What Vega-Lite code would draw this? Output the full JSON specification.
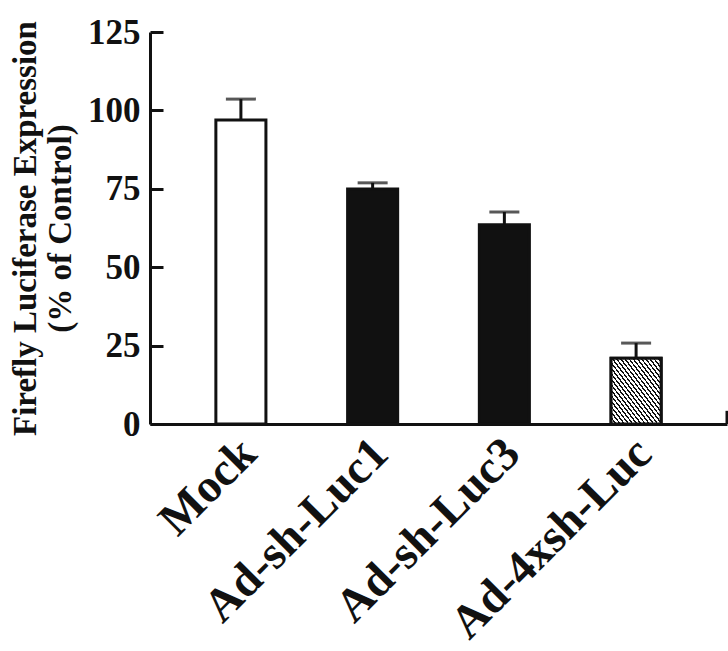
{
  "$schema": "https://vega.github.io/schema/vega-lite/v6.json",
  "width": 577,
  "height": 392,
  "autosize": {"type": "none"},
  "padding": {"left": 150, "top": 32, "right": 1, "bottom": 227},
  "background": "white",
  "config": {"view": {"stroke": null}, "font": "Liberation Serif"},
  "data": {"values": [
    {"group": "Mock", "mean": 96.9, "upper": 103.6, "pattern": "open"},
    {"group": "Ad-sh-Luc1", "mean": 74.9, "upper": 76.9, "pattern": "solid"},
    {"group": "Ad-sh-Luc3", "mean": 63.5, "upper": 67.6, "pattern": "solid"},
    {"group": "Ad-4xsh-Luc", "mean": 21.0, "upper": 25.8, "pattern": "hatched"}
  ]},
  "resolve": {"scale": {"x": "independent"}},
  "layer": [
    {
      "encoding": {
        "x": {
          "field": "group", "type": "nominal", "sort": null,
          "scale": {"paddingInner": 0.62, "paddingOuter": 0.5},
          "axis": {
            "title": null, "labelAngle": -45, "labelAlign": "right", "labelBaseline": "middle",
            "labelFont": "Liberation Serif", "labelFontSize": 47, "labelFontWeight": "bold", "labelColor": "#111",
            "labelLimit": 0, "labelOverlap": false,
            "ticks": false, "labelPadding": 22, "labelOffset": 8,
            "domainColor": "#111", "domainWidth": 3, "grid": false
          }
        }
      },
      "layer": [
        {
          "mark": {"type": "bar", "stroke": "#111", "strokeWidth": 3},
          "encoding": {
            "y": {
              "field": "mean", "type": "quantitative",
              "scale": {"domain": [0, 125], "nice": false, "zero": true},
              "axis": {
                "title": ["Firefly Luciferase Expression", "(% of Control)"],
                "values": [0, 25, 50, 75, 100, 125], "grid": false,
                "domainColor": "#111", "domainWidth": 3,
                "tickColor": "#111", "tickWidth": 3, "tickSize": -13,
                "labelFont": "Liberation Serif", "labelFontWeight": "bold", "labelFontSize": 35, "labelColor": "#111",
                "labelPadding": 23,
                "titleFont": "Liberation Serif", "titleFontWeight": "bold", "titleFontSize": 33, "titleColor": "#111",
                "titlePadding": 10, "titleLineHeight": 35
              }
            },
            "fill": {
              "field": "pattern", "type": "nominal",
              "scale": {"domain": ["open", "solid", "hatched"], "range": ["white", "#111", "white"]},
              "legend": null
            }
          }
        },
        {
          "transform": [{"filter": "datum.pattern === 'hatched'"}],
          "mark": {
            "type": "bar", "stroke": "#111", "strokeWidth": 3,
            "fill": {
              "gradient": "linear", "x1": 0, "y1": 1, "x2": 1, "y2": 0,
              "stops": [
                {"offset": 0, "color": "#111"}, {"offset": 0.0167, "color": "#111"}, {"offset": 0.0167, "color": "white"}, {"offset": 0.0417, "color": "white"},
                {"offset": 0.0417, "color": "#111"}, {"offset": 0.0583, "color": "#111"}, {"offset": 0.0583, "color": "white"}, {"offset": 0.0833, "color": "white"},
                {"offset": 0.0833, "color": "#111"}, {"offset": 0.1, "color": "#111"}, {"offset": 0.1, "color": "white"}, {"offset": 0.125, "color": "white"},
                {"offset": 0.125, "color": "#111"}, {"offset": 0.1417, "color": "#111"}, {"offset": 0.1417, "color": "white"}, {"offset": 0.1667, "color": "white"},
                {"offset": 0.1667, "color": "#111"}, {"offset": 0.1833, "color": "#111"}, {"offset": 0.1833, "color": "white"}, {"offset": 0.2083, "color": "white"},
                {"offset": 0.2083, "color": "#111"}, {"offset": 0.225, "color": "#111"}, {"offset": 0.225, "color": "white"}, {"offset": 0.25, "color": "white"},
                {"offset": 0.25, "color": "#111"}, {"offset": 0.2667, "color": "#111"}, {"offset": 0.2667, "color": "white"}, {"offset": 0.2917, "color": "white"},
                {"offset": 0.2917, "color": "#111"}, {"offset": 0.3083, "color": "#111"}, {"offset": 0.3083, "color": "white"}, {"offset": 0.3333, "color": "white"},
                {"offset": 0.3333, "color": "#111"}, {"offset": 0.35, "color": "#111"}, {"offset": 0.35, "color": "white"}, {"offset": 0.375, "color": "white"},
                {"offset": 0.375, "color": "#111"}, {"offset": 0.3917, "color": "#111"}, {"offset": 0.3917, "color": "white"}, {"offset": 0.4167, "color": "white"},
                {"offset": 0.4167, "color": "#111"}, {"offset": 0.4333, "color": "#111"}, {"offset": 0.4333, "color": "white"}, {"offset": 0.4583, "color": "white"},
                {"offset": 0.4583, "color": "#111"}, {"offset": 0.475, "color": "#111"}, {"offset": 0.475, "color": "white"}, {"offset": 0.5, "color": "white"},
                {"offset": 0.5, "color": "#111"}, {"offset": 0.5167, "color": "#111"}, {"offset": 0.5167, "color": "white"}, {"offset": 0.5417, "color": "white"},
                {"offset": 0.5417, "color": "#111"}, {"offset": 0.5583, "color": "#111"}, {"offset": 0.5583, "color": "white"}, {"offset": 0.5833, "color": "white"},
                {"offset": 0.5833, "color": "#111"}, {"offset": 0.6, "color": "#111"}, {"offset": 0.6, "color": "white"}, {"offset": 0.625, "color": "white"},
                {"offset": 0.625, "color": "#111"}, {"offset": 0.6417, "color": "#111"}, {"offset": 0.6417, "color": "white"}, {"offset": 0.6667, "color": "white"},
                {"offset": 0.6667, "color": "#111"}, {"offset": 0.6833, "color": "#111"}, {"offset": 0.6833, "color": "white"}, {"offset": 0.7083, "color": "white"},
                {"offset": 0.7083, "color": "#111"}, {"offset": 0.725, "color": "#111"}, {"offset": 0.725, "color": "white"}, {"offset": 0.75, "color": "white"},
                {"offset": 0.75, "color": "#111"}, {"offset": 0.7667, "color": "#111"}, {"offset": 0.7667, "color": "white"}, {"offset": 0.7917, "color": "white"},
                {"offset": 0.7917, "color": "#111"}, {"offset": 0.8083, "color": "#111"}, {"offset": 0.8083, "color": "white"}, {"offset": 0.8333, "color": "white"},
                {"offset": 0.8333, "color": "#111"}, {"offset": 0.85, "color": "#111"}, {"offset": 0.85, "color": "white"}, {"offset": 0.875, "color": "white"},
                {"offset": 0.875, "color": "#111"}, {"offset": 0.8917, "color": "#111"}, {"offset": 0.8917, "color": "white"}, {"offset": 0.9167, "color": "white"},
                {"offset": 0.9167, "color": "#111"}, {"offset": 0.9333, "color": "#111"}, {"offset": 0.9333, "color": "white"}, {"offset": 0.9583, "color": "white"},
                {"offset": 0.9583, "color": "#111"}, {"offset": 0.975, "color": "#111"}, {"offset": 0.975, "color": "white"}, {"offset": 1, "color": "white"}
              ]
            }
          },
          "encoding": {"y": {"field": "mean", "type": "quantitative"}}
        },
        {
          "mark": {"type": "rule", "strokeWidth": 3, "color": "#111"},
          "encoding": {"y": {"field": "mean", "type": "quantitative"}, "y2": {"field": "upper"}}
        },
        {
          "mark": {"type": "tick", "thickness": 3, "size": 30, "color": "#111"},
          "encoding": {"y": {"field": "upper", "type": "quantitative"}}
        }
      ]
    },
    {
      "data": {"values": [{"axisEnd": 1}]},
      "mark": {"type": "rule", "strokeWidth": 3, "color": "#111"},
      "encoding": {
        "x": {"field": "axisEnd", "type": "quantitative", "scale": {"domain": [0, 1]}, "axis": null},
        "y": {"datum": 0},
        "y2": {"datum": 4.2}
      }
    }
  ]
}
